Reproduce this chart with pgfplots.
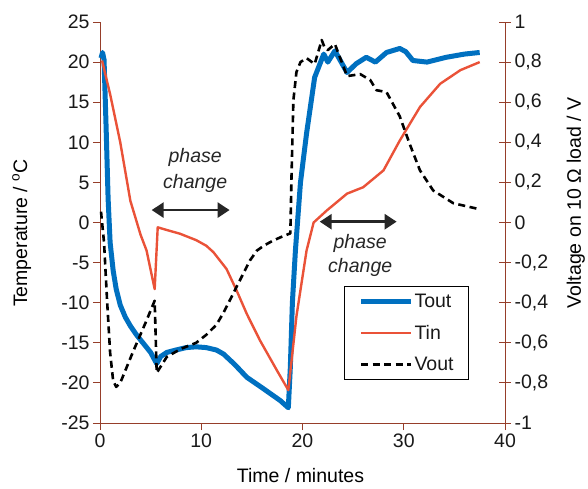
\documentclass[border=0pt]{standalone}
\usepackage{fontspec}
\setmainfont{Liberation Sans}
\usepackage{pgfplots}
\pgfplotsset{compat=1.18}
\usetikzlibrary{arrows.meta}

\definecolor{toutblue}{RGB}{0,112,192}
\definecolor{tinred}{RGB}{234,82,56}
\definecolor{axisbrown}{RGB}{150,62,42}
\newcommand{\lblfont}{\fontsize{19.5}{22}\selectfont}

\pgfplotsset{
  myaxis/.style={
    scale only axis, width=405pt, height=401pt,
    at={(0,0)}, anchor=south west,
    xmin=0, xmax=40,
    /pgf/number format/assume math mode=true,
    /pgf/number format/use comma,
    tick label style={text=black!90},
    axis line style={axisbrown, line width=0.9pt},
    every tick/.style={axisbrown, line width=0.9pt},
    major tick length=7pt,
    clip=false,
  },
  legend image code/.code={\draw[#1] (0pt,0pt) -- (50pt,0pt);},
}

\begin{document}
\begin{tikzpicture}[font=\lblfont]
\begin{axis}[myaxis,
  ymin=-25, ymax=25,
  axis x line*=bottom, axis y line*=left,
  tick align=outside,
  xtick={0,10,20,30,40},
  ytick={-25,-20,...,25},
  xlabel={Time / minutes},
  ylabel={Temperature / \textsuperscript{o}C},
  xlabel style={at={(axis description cs:0.495,-0.132)}, anchor=center},
  ylabel style={at={(axis description cs:-0.193,0.474)}, anchor=center},
]
\addplot[toutblue, line width=5pt, line join=round] coordinates {
(0.1,20.5)(0.25,21.2)(0.4,20.3)(0.6,12)(0.8,3)(1.0,-2.5)(1.3,-6)(1.6,-8.3)
(2.0,-10.3)(2.5,-11.8)(3.0,-12.9)(3.6,-14)(4.3,-15.1)(5.0,-16.2)(5.6,-17.6)
(6.0,-16.7)(6.6,-16.2)(7.5,-15.9)(8.5,-15.6)(9.5,-15.5)(10.5,-15.6)(11.5,-15.9)
(12.2,-16.4)(13.3,-17.7)(14.5,-19.3)(16,-20.6)(17.8,-22.2)(18.6,-23.1)(18.8,-18)
(19.0,-10)(19.3,-3.5)(19.8,5)(20.4,11.1)(21.2,18.1)(22.1,21)(22.5,20)(23.2,21.4)
(24.4,18.7)(25.3,19.8)(26.3,20.6)(27.2,20)(28.3,21.2)(29.6,21.7)(30.2,21.3)
(30.9,20.2)(32.3,20)(34.2,20.6)(36,21)(37.5,21.2)
};
\addplot[tinred, line width=2.4pt, line join=round] coordinates {
(0.2,20.2)(1,16)(2,10)(3,2.7)(4,-1.5)(4.6,-3.5)(5.4,-8.3)(5.7,-0.6)(6.5,-0.9)
(7.9,-1.4)(9.5,-2.2)(10.5,-2.9)(11.2,-3.7)(12.5,-5.8)(13.5,-8.5)(14.5,-11.4)
(15.8,-14.7)(17.5,-18.5)(18.6,-20.9)(19.4,-11.7)(20.4,-3.5)(21.1,0)(22.4,1.5)
(24.4,3.6)(26,4.4)(28,6.5)(29.6,10.2)(31.6,14.4)(33.6,17.3)(35.6,19)(37.5,20)
};
% annotations
\draw[{Triangle[width=15pt,length=12pt]}-{Triangle[width=15pt,length=12pt]}, line width=2.6pt, black!85]
  (axis cs:5.1,1.55) -- (axis cs:12.8,1.55);
\draw[{Triangle[width=15pt,length=12pt]}-{Triangle[width=15pt,length=12pt]}, line width=2.6pt, black!85]
  (axis cs:21.7,0.1) -- (axis cs:29.3,0.1);
\node[font=\lblfont\itshape, text=black!85] at (axis cs:9.4,8.1) {phase};
\node[font=\lblfont\itshape, text=black!85] at (axis cs:9.4,4.9) {change};
\node[font=\lblfont\itshape, text=black!85] at (axis cs:25.7,-2.6) {phase};
\node[font=\lblfont\itshape, text=black!85] at (axis cs:25.7,-5.6) {change};
\end{axis}

\begin{axis}[myaxis,
  ymin=-1, ymax=1,
  axis x line=none, axis y line*=right,
  tick align=center, major tick length=12pt,
  ytick={-1,-0.8,-0.6,-0.4,-0.2,0,0.2,0.4,0.6,0.8,1},
  yticklabel style={/pgf/number format/fixed, /pgf/number format/precision=1},
  ylabel={Voltage on 10 Ω load / V},
  ylabel style={at={(axis description cs:1.175,0.549)}, anchor=center},
  legend style={at={(axis description cs:0.911,0.342)}, anchor=north east,
    draw=black, line width=0.8pt, inner xsep=14pt, inner ysep=6pt, row sep=12pt,
    font=\lblfont, text=black!90, nodes={inner xsep=1pt}},
  legend cell align=left,
]
\addlegendimage{toutblue, line width=5pt}
\addlegendentry{Tout}
\addlegendimage{tinred, line width=2.4pt}
\addlegendentry{Tin}
\addplot[black, line width=2.6pt, dash pattern=on 7pt off 4.5pt, line join=round] coordinates {
(0.1,0.054)(0.4,-0.1)(0.7,-0.39)(1.0,-0.65)(1.3,-0.79)(1.6,-0.82)(2.0,-0.8)
(3.3,-0.64)(4.5,-0.5)(5.4,-0.39)(5.6,-0.75)(6.6,-0.67)(8,-0.63)(9.5,-0.6)
(10.5,-0.56)(11.5,-0.51)(12.2,-0.45)(12.8,-0.39)(13.5,-0.32)(14.2,-0.25)
(14.8,-0.19)(15.5,-0.14)(16.2,-0.115)(17.1,-0.09)(18,-0.07)(18.8,-0.054)
(18.9,0.2)(19.1,0.61)(19.4,0.75)(19.8,0.8)(20.4,0.82)
(21.2,0.79)(21.9,0.91)(22.2,0.87)(22.5,0.86)(23.2,0.89)(24.4,0.73)(25.7,0.74)
(26.7,0.71)(27.3,0.66)(28.3,0.65)(29.6,0.53)(30.6,0.39)(31.6,0.26)(32.9,0.16)
(34.9,0.096)(37.5,0.066)
};
\addlegendentry{Vout}
\end{axis}
\pgfresetboundingbox
\path (-100pt,-66pt) rectangle (488pt,423pt);
\end{tikzpicture}
\end{document}
